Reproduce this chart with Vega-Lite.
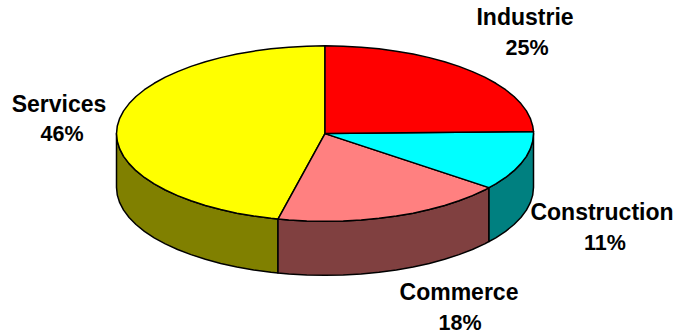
{"$schema":"https://vega.github.io/schema/vega-lite/v6.json","width":675,"height":335,"padding":0,"autosize":{"type":"fit","contains":"padding"},"background":"white","view":{"stroke":null},"datasets":{"slices":[
{"piece":"Services side","n":1,"x":-208.5,"y":0},{"piece":"Services side","n":2,"x":-207.7,"y":-7.7},{"piece":"Services side","n":3,"x":-205.3,"y":-15.3},{"piece":"Services side","n":4,"x":-201.4,"y":-22.8},{"piece":"Services side","n":5,"x":-195.9,"y":-30.1},{"piece":"Services side","n":6,"x":-189,"y":-37.2},{"piece":"Services side","n":7,"x":-180.6,"y":-44},{"piece":"Services side","n":8,"x":-170.8,"y":-50.5},{"piece":"Services side","n":9,"x":-159.7,"y":-56.6},{"piece":"Services side","n":10,"x":-147.4,"y":-62.2},{"piece":"Services side","n":11,"x":-134,"y":-67.4},{"piece":"Services side","n":12,"x":-119.6,"y":-72.1},{"piece":"Services side","n":13,"x":-104.3,"y":-76.2},{"piece":"Services side","n":14,"x":-88.1,"y":-79.8},{"piece":"Services side","n":15,"x":-71.3,"y":-82.7},{"piece":"Services side","n":16,"x":-54,"y":-85},{"piece":"Services side","n":17,"x":-47,"y":-85.7},{"piece":"Services side","n":18,"x":-47,"y":-139.7},{"piece":"Services side","n":19,"x":-54,"y":-139},{"piece":"Services side","n":20,"x":-71.3,"y":-136.7},{"piece":"Services side","n":21,"x":-88.1,"y":-133.8},{"piece":"Services side","n":22,"x":-104.3,"y":-130.2},{"piece":"Services side","n":23,"x":-119.6,"y":-126.1},{"piece":"Services side","n":24,"x":-134,"y":-121.4},{"piece":"Services side","n":25,"x":-147.4,"y":-116.2},{"piece":"Services side","n":26,"x":-159.7,"y":-110.6},{"piece":"Services side","n":27,"x":-170.8,"y":-104.5},{"piece":"Services side","n":28,"x":-180.6,"y":-98},{"piece":"Services side","n":29,"x":-189,"y":-91.2},{"piece":"Services side","n":30,"x":-195.9,"y":-84.1},{"piece":"Services side","n":31,"x":-201.4,"y":-76.8},{"piece":"Services side","n":32,"x":-205.3,"y":-69.3},{"piece":"Services side","n":33,"x":-207.7,"y":-61.7},{"piece":"Services side","n":34,"x":-208.5,"y":-54},
{"piece":"Commerce side","n":1,"x":-47,"y":-85.7},{"piece":"Commerce side","n":2,"x":-36.2,"y":-86.7},{"piece":"Commerce side","n":3,"x":-18.2,"y":-87.7},{"piece":"Commerce side","n":4,"x":0,"y":-88},{"piece":"Commerce side","n":5,"x":18.2,"y":-87.7},{"piece":"Commerce side","n":6,"x":36.2,"y":-86.7},{"piece":"Commerce side","n":7,"x":54,"y":-85},{"piece":"Commerce side","n":8,"x":71.3,"y":-82.7},{"piece":"Commerce side","n":9,"x":88.1,"y":-79.8},{"piece":"Commerce side","n":10,"x":104.3,"y":-76.2},{"piece":"Commerce side","n":11,"x":119.6,"y":-72.1},{"piece":"Commerce side","n":12,"x":134,"y":-67.4},{"piece":"Commerce side","n":13,"x":147.4,"y":-62.2},{"piece":"Commerce side","n":14,"x":159.7,"y":-56.6},{"piece":"Commerce side","n":15,"x":164,"y":-54.2},{"piece":"Commerce side","n":16,"x":164,"y":-108.2},{"piece":"Commerce side","n":17,"x":159.7,"y":-110.6},{"piece":"Commerce side","n":18,"x":147.4,"y":-116.2},{"piece":"Commerce side","n":19,"x":134,"y":-121.4},{"piece":"Commerce side","n":20,"x":119.6,"y":-126.1},{"piece":"Commerce side","n":21,"x":104.3,"y":-130.2},{"piece":"Commerce side","n":22,"x":88.1,"y":-133.8},{"piece":"Commerce side","n":23,"x":71.3,"y":-136.7},{"piece":"Commerce side","n":24,"x":54,"y":-139},{"piece":"Commerce side","n":25,"x":36.2,"y":-140.7},{"piece":"Commerce side","n":26,"x":18.2,"y":-141.7},{"piece":"Commerce side","n":27,"x":0,"y":-142},{"piece":"Commerce side","n":28,"x":-18.2,"y":-141.7},{"piece":"Commerce side","n":29,"x":-36.2,"y":-140.7},{"piece":"Commerce side","n":30,"x":-47,"y":-139.7},
{"piece":"Construction side","n":1,"x":164,"y":-54.2},{"piece":"Construction side","n":2,"x":170.8,"y":-50.5},{"piece":"Construction side","n":3,"x":180.6,"y":-44},{"piece":"Construction side","n":4,"x":189,"y":-37.2},{"piece":"Construction side","n":5,"x":195.9,"y":-30.1},{"piece":"Construction side","n":6,"x":201.4,"y":-22.8},{"piece":"Construction side","n":7,"x":205.3,"y":-15.3},{"piece":"Construction side","n":8,"x":207.7,"y":-7.7},{"piece":"Construction side","n":9,"x":208.5,"y":0},{"piece":"Construction side","n":10,"x":208.5,"y":-54},{"piece":"Construction side","n":11,"x":207.7,"y":-61.7},{"piece":"Construction side","n":12,"x":205.3,"y":-69.3},{"piece":"Construction side","n":13,"x":201.4,"y":-76.8},{"piece":"Construction side","n":14,"x":195.9,"y":-84.1},{"piece":"Construction side","n":15,"x":189,"y":-91.2},{"piece":"Construction side","n":16,"x":180.6,"y":-98},{"piece":"Construction side","n":17,"x":170.8,"y":-104.5},{"piece":"Construction side","n":18,"x":164,"y":-108.2},
{"piece":"Services","n":1,"x":0,"y":0},{"piece":"Services","n":2,"x":0,"y":88},{"piece":"Services","n":3,"x":-18.2,"y":87.7},{"piece":"Services","n":4,"x":-36.2,"y":86.7},{"piece":"Services","n":5,"x":-54,"y":85},{"piece":"Services","n":6,"x":-71.3,"y":82.7},{"piece":"Services","n":7,"x":-88.1,"y":79.8},{"piece":"Services","n":8,"x":-104.3,"y":76.2},{"piece":"Services","n":9,"x":-119.6,"y":72.1},{"piece":"Services","n":10,"x":-134,"y":67.4},{"piece":"Services","n":11,"x":-147.4,"y":62.2},{"piece":"Services","n":12,"x":-159.7,"y":56.6},{"piece":"Services","n":13,"x":-170.8,"y":50.5},{"piece":"Services","n":14,"x":-180.6,"y":44},{"piece":"Services","n":15,"x":-189,"y":37.2},{"piece":"Services","n":16,"x":-195.9,"y":30.1},{"piece":"Services","n":17,"x":-201.4,"y":22.8},{"piece":"Services","n":18,"x":-205.3,"y":15.3},{"piece":"Services","n":19,"x":-207.7,"y":7.7},{"piece":"Services","n":20,"x":-208.5,"y":0},{"piece":"Services","n":21,"x":-207.7,"y":-7.7},{"piece":"Services","n":22,"x":-205.3,"y":-15.3},{"piece":"Services","n":23,"x":-201.4,"y":-22.8},{"piece":"Services","n":24,"x":-195.9,"y":-30.1},{"piece":"Services","n":25,"x":-189,"y":-37.2},{"piece":"Services","n":26,"x":-180.6,"y":-44},{"piece":"Services","n":27,"x":-170.8,"y":-50.5},{"piece":"Services","n":28,"x":-159.7,"y":-56.6},{"piece":"Services","n":29,"x":-147.4,"y":-62.2},{"piece":"Services","n":30,"x":-134,"y":-67.4},{"piece":"Services","n":31,"x":-119.6,"y":-72.1},{"piece":"Services","n":32,"x":-104.3,"y":-76.2},{"piece":"Services","n":33,"x":-88.1,"y":-79.8},{"piece":"Services","n":34,"x":-71.3,"y":-82.7},{"piece":"Services","n":35,"x":-54,"y":-85},{"piece":"Services","n":36,"x":-47,"y":-85.7},
{"piece":"Commerce","n":1,"x":0,"y":0},{"piece":"Commerce","n":2,"x":-47,"y":-85.7},{"piece":"Commerce","n":3,"x":-36.2,"y":-86.7},{"piece":"Commerce","n":4,"x":-18.2,"y":-87.7},{"piece":"Commerce","n":5,"x":0,"y":-88},{"piece":"Commerce","n":6,"x":18.2,"y":-87.7},{"piece":"Commerce","n":7,"x":36.2,"y":-86.7},{"piece":"Commerce","n":8,"x":54,"y":-85},{"piece":"Commerce","n":9,"x":71.3,"y":-82.7},{"piece":"Commerce","n":10,"x":88.1,"y":-79.8},{"piece":"Commerce","n":11,"x":104.3,"y":-76.2},{"piece":"Commerce","n":12,"x":119.6,"y":-72.1},{"piece":"Commerce","n":13,"x":134,"y":-67.4},{"piece":"Commerce","n":14,"x":147.4,"y":-62.2},{"piece":"Commerce","n":15,"x":159.7,"y":-56.6},{"piece":"Commerce","n":16,"x":164,"y":-54.2},
{"piece":"Construction","n":1,"x":0,"y":0},{"piece":"Construction","n":2,"x":164,"y":-54.2},{"piece":"Construction","n":3,"x":170.8,"y":-50.5},{"piece":"Construction","n":4,"x":180.6,"y":-44},{"piece":"Construction","n":5,"x":189,"y":-37.2},{"piece":"Construction","n":6,"x":195.9,"y":-30.1},{"piece":"Construction","n":7,"x":201.4,"y":-22.8},{"piece":"Construction","n":8,"x":205.3,"y":-15.3},{"piece":"Construction","n":9,"x":207.7,"y":-7.7},{"piece":"Construction","n":10,"x":208.5,"y":0},{"piece":"Construction","n":11,"x":208.5,"y":2},
{"piece":"Industrie","n":1,"x":0,"y":0},{"piece":"Industrie","n":2,"x":0,"y":88},{"piece":"Industrie","n":3,"x":18.2,"y":87.7},{"piece":"Industrie","n":4,"x":36.2,"y":86.7},{"piece":"Industrie","n":5,"x":54,"y":85},{"piece":"Industrie","n":6,"x":71.3,"y":82.7},{"piece":"Industrie","n":7,"x":88.1,"y":79.8},{"piece":"Industrie","n":8,"x":104.3,"y":76.2},{"piece":"Industrie","n":9,"x":119.6,"y":72.1},{"piece":"Industrie","n":10,"x":134,"y":67.4},{"piece":"Industrie","n":11,"x":147.4,"y":62.2},{"piece":"Industrie","n":12,"x":159.7,"y":56.6},{"piece":"Industrie","n":13,"x":170.8,"y":50.5},{"piece":"Industrie","n":14,"x":180.6,"y":44},{"piece":"Industrie","n":15,"x":189,"y":37.2},{"piece":"Industrie","n":16,"x":195.9,"y":30.1},{"piece":"Industrie","n":17,"x":201.4,"y":22.8},{"piece":"Industrie","n":18,"x":205.3,"y":15.3},{"piece":"Industrie","n":19,"x":207.7,"y":7.7},{"piece":"Industrie","n":20,"x":208.5,"y":2}
],"names":[
{"label":"Industrie","x":200,"y":116},{"label":"Services","x":-266,"y":29},{"label":"Construction","x":277,"y":-80},{"label":"Commerce","x":134,"y":-160}
],"shares":[
{"label":"25%","x":202,"y":85},{"label":"46%","x":-263,"y":-1},{"label":"11%","x":280,"y":-111},{"label":"18%","x":135,"y":-191}
]},
"layer":[
{"data":{"name":"slices"},"mark":{"type":"line","filled":true,"interpolate":"linear-closed","stroke":"black","strokeWidth":1.5,"strokeJoin":"round"},"encoding":{"x":{"field":"x","type":"quantitative","scale":{"domain":[-325,350],"nice":false,"zero":false},"axis":null},"y":{"field":"y","type":"quantitative","scale":{"domain":[-201,134],"nice":false,"zero":false},"axis":null},"order":{"field":"n","type":"quantitative"},"fill":{"field":"piece","type":"nominal","legend":null,"scale":{"domain":["Industrie","Construction","Commerce","Services","Construction side","Commerce side","Services side"],"range":["#ff0000","#00ffff","#ff8080","#ffff00","#008080","#804040","#808000"]}}}},
{"data":{"name":"names"},"mark":{"type":"text","font":"Liberation Sans","fontWeight":"bold","fontSize":23,"baseline":"middle","align":"center","color":"black"},"encoding":{"x":{"field":"x","type":"quantitative"},"y":{"field":"y","type":"quantitative"},"text":{"field":"label","type":"nominal"}}},
{"data":{"name":"shares"},"mark":{"type":"text","font":"Liberation Sans","fontWeight":"bold","fontSize":21.5,"baseline":"middle","align":"center","color":"black"},"encoding":{"x":{"field":"x","type":"quantitative"},"y":{"field":"y","type":"quantitative"},"text":{"field":"label","type":"nominal"}}}
]}
